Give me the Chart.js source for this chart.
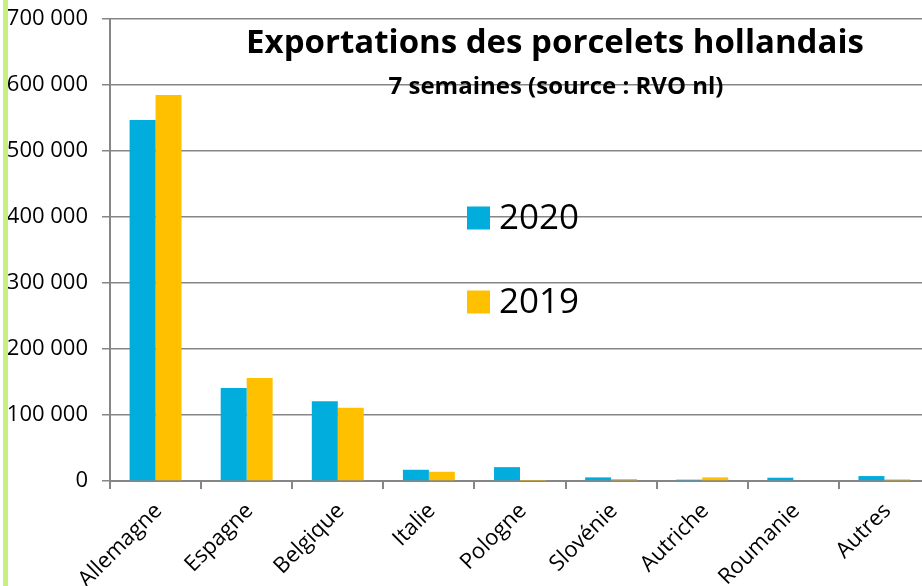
<!DOCTYPE html>
<html>
<head>
<meta charset="utf-8">
<script src="https://cdn.jsdelivr.net/npm/chart.js@4"></script>
<style>
  html, body { margin:0; padding:0; background:#fff; overflow:hidden; width:922px; height:586px; }
  #wrap { position:relative; width:930px; height:586px; }
  #green { position:absolute; left:3px; top:0; width:5px; height:586px; background:#C8F07C; z-index:2; }
  canvas { display:block; }
</style>
</head>
<body>
<div id="wrap">
  <div id="green"></div>
  <canvas id="c" width="930" height="586"></canvas>
</div>
<script>
const categories = ['Allemagne','Espagne','Belgique','Italie','Pologne','Slovénie','Autriche','Roumanie','Autres'];
const values2020 = [547000, 141000, 121000, 17000, 21000, 5500, 2000, 5000, 7500];
const values2019 = [585000, 156000, 111000, 14000, 500, 3000, 5500, 0, 2500];
const yTickLabels = ['0','100 000','200 000','300 000','400 000','500 000','600 000','700 000'];
const titleText = 'Exportations des porcelets hollandais';
const subtitleText = '7 semaines (source : RVO nl)';

const overlay = {
  id: 'overlay',
  afterDraw(chart) {
    const ctx = chart.ctx;
    ctx.save();
    ctx.fillStyle = '#000';
    ctx.textAlign = 'center';
    ctx.textBaseline = 'alphabetic';
    ctx.font = 'bold 33px "Open Sans"';
    ctx.fillText(titleText, 555, 53);
    ctx.font = 'bold 24px "Open Sans"';
    ctx.fillText(subtitleText, 556, 94);
    // legend
    const ds = chart.data.datasets;
    const ys = [218, 302];
    ds.forEach((d, i) => {
      ctx.fillStyle = d.backgroundColor;
      ctx.fillRect(467, ys[i] - 11.5, 23, 23);
      ctx.fillStyle = '#000';
      ctx.textAlign = 'left';
      ctx.textBaseline = 'middle';
      ctx.font = '35px "Open Sans"';
      ctx.fillText(d.label, 499, ys[i] + 1);
    });
    ctx.restore();
  }
};

new Chart(document.getElementById('c'), {
  type: 'bar',
  data: {
    labels: categories,
    datasets: [
      { label: '2020', data: values2020, backgroundColor: '#01ADDD', categoryPercentage: 0.57, barPercentage: 1.0 },
      { label: '2019', data: values2019, backgroundColor: '#FFC000', categoryPercentage: 0.57, barPercentage: 1.0 }
    ]
  },
  options: {
    responsive: false,
    animation: false,
    layout: { padding: { top: 19, right: 0, left: 0, bottom: 0 } },
    plugins: { legend: { display: false }, title: { display: false }, tooltip: { enabled: false } },
    scales: {
      x: {
        grid: { offset: true, drawOnChartArea: false, drawTicks: true, tickLength: 8, color: '#868686', lineWidth: 2 },
        border: { display: true, color: '#868686', width: 2 },
        ticks: { color: '#000', font: { family: 'Open Sans', size: 22 }, minRotation: 45, maxRotation: 45, padding: 9, labelOffset: 3, autoSkip: false },
        afterFit(scale) { scale.height = 105; }
      },
      y: {
        min: 0, max: 700000,
        grid: { color: '#868686', lineWidth: 1.5, drawTicks: true, tickLength: 8 },
        border: { display: true, color: '#868686', width: 2 },
        ticks: {
          stepSize: 100000, color: '#000', padding: 14,
          font: { family: 'Open Sans', size: 22 },
          callback: (v, i) => yTickLabels[i]
        },
        afterFit(scale) { scale.width = 110; scale.paddingTop = 0; scale.paddingBottom = 0; }
      }
    }
  },
  plugins: [overlay]
});
</script>
</body>
</html>
